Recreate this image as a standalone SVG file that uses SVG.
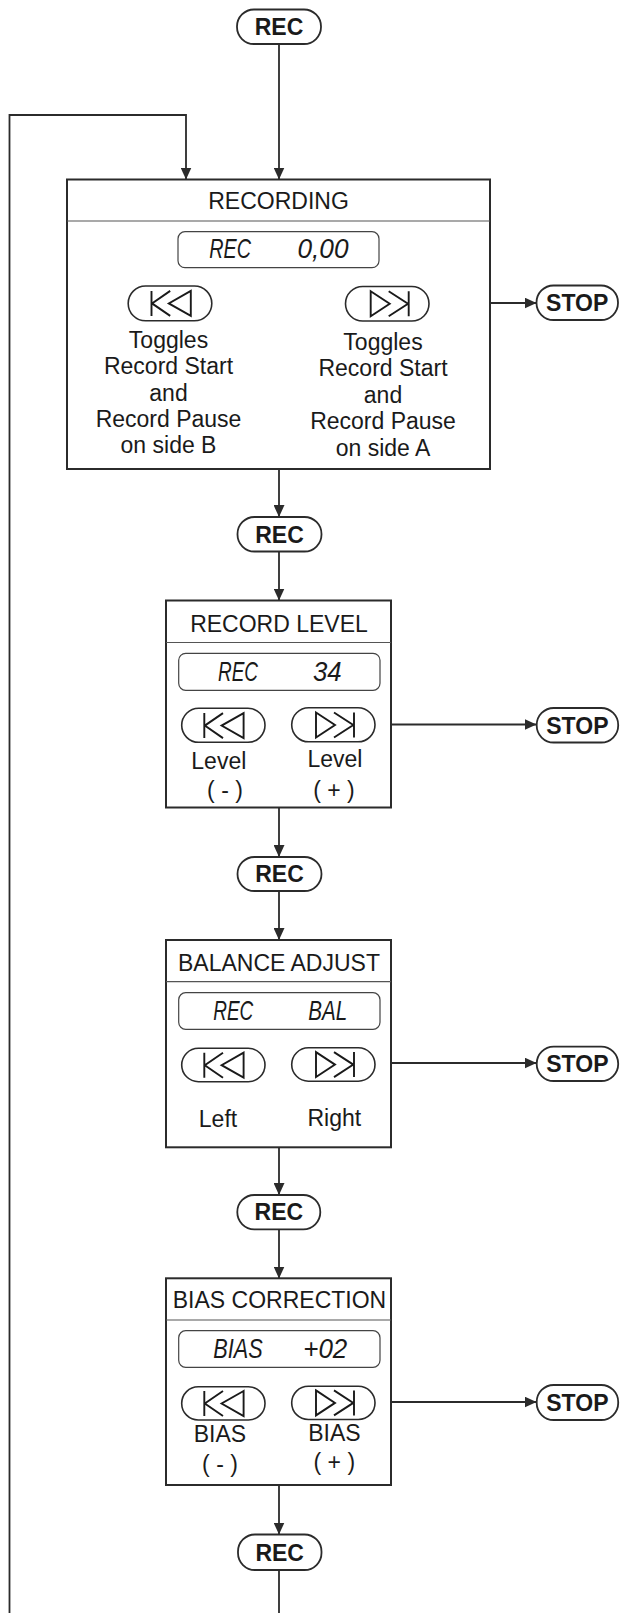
<svg xmlns="http://www.w3.org/2000/svg" width="620" height="1613" viewBox="0 0 620 1613">
<style>
.box{fill:#fff;stroke:#2b2b2b;stroke-width:2}
.sep{stroke:#555;stroke-width:1.2}
.disp{fill:#fff;stroke:#444;stroke-width:1.2}
.pill{fill:#fff;stroke:#2b2b2b;stroke-width:1.8}
.btn{fill:#fff;stroke:#2b2b2b;stroke-width:1.6}
.ico{fill:none;stroke:#1a1a1a;stroke-width:1.9}
.conn{fill:none;stroke:#2b2b2b;stroke-width:1.8}
.t{font-family:"Liberation Sans",Arial,sans-serif;font-size:23px;fill:#1a1a1a;text-anchor:middle}
.b{font-family:"Liberation Sans",Arial,sans-serif;font-size:23px;font-weight:bold;fill:#1a1a1a;text-anchor:middle}
.lcd{font-family:"Liberation Sans",Arial,sans-serif;font-size:28px;font-style:italic;fill:#1a1a1a}
</style>
<defs>
<marker id="ah" viewBox="0 0 12 11" markerWidth="12" markerHeight="11" refX="12" refY="5.5" orient="auto" markerUnits="userSpaceOnUse">
<path d="M0 0 L12 5.5 L0 11 z" fill="#2b2b2b"/>
</marker>
<g id="prev">
<path class="ico" d="M-18.5 -12.5 V12.5 M0.2 -12.5 L-18 0 L0.2 12.5 M20.8 -12.5 L-1.2 0 L20.8 12.5 Z"/>
</g>
<g id="next">
<path class="ico" d="M21.5 -12.5 V12.5 M1.5 -12.5 L20.8 0 L1.5 12.5 M-16.5 -12.5 L2.5 0 L-16.5 12.5 Z"/>
</g>
</defs>

<g id="connectors">
<path class="conn" d="M279 44 V179.5" marker-end="url(#ah)"/>
<path class="conn" d="M9.5 1613 V115 H186 V179.5" marker-end="url(#ah)"/>
<path class="conn" d="M490 303 H536.5" marker-end="url(#ah)"/>
<path class="conn" d="M279 469 V517" marker-end="url(#ah)"/>
<path class="conn" d="M279 551.5 V600.5" marker-end="url(#ah)"/>
<path class="conn" d="M391 724.5 H536.5" marker-end="url(#ah)"/>
<path class="conn" d="M279 807.5 V857" marker-end="url(#ah)"/>
<path class="conn" d="M279 891 V940" marker-end="url(#ah)"/>
<path class="conn" d="M391 1063 H536.5" marker-end="url(#ah)"/>
<path class="conn" d="M279 1147.5 V1195" marker-end="url(#ah)"/>
<path class="conn" d="M279 1229.5 V1278.5" marker-end="url(#ah)"/>
<path class="conn" d="M391 1402 H536.5" marker-end="url(#ah)"/>
<path class="conn" d="M279 1485 V1534.5" marker-end="url(#ah)"/>
<path class="conn" d="M279 1570 V1613"/>
</g>

<g id="rec1">
<rect class="pill" x="237" y="9.5" width="84" height="34.5" rx="17"/>
<text class="b" x="279" y="35">REC</text>
</g>

<g id="recording">
<rect class="box" x="67" y="179.5" width="423" height="289.5"/>
<line class="sep" x1="67" y1="221" x2="490" y2="221"/>
<text class="t" x="278.5" y="209">RECORDING</text>
<rect class="disp" x="178" y="231.7" width="201" height="36" rx="7"/>
<text class="lcd" x="209.3" y="258" textLength="41.7" lengthAdjust="spacingAndGlyphs">REC</text>
<text class="lcd" x="297.5" y="258" textLength="51" lengthAdjust="spacingAndGlyphs">0,00</text>
<rect class="btn" x="128.2" y="286" width="83.6" height="34.8" rx="17.4"/>
<use href="#prev" x="170" y="303.4"/>
<rect class="btn" x="345.5" y="286.5" width="83.5" height="34.5" rx="17.2"/>
<use href="#next" x="387.2" y="303.7"/>
<text class="t" x="168.5" y="348">Toggles</text>
<text class="t" x="168.5" y="374">Record Start</text>
<text class="t" x="168.5" y="400.5">and</text>
<text class="t" x="168.5" y="427">Record Pause</text>
<text class="t" x="168.5" y="453">on side B</text>
<text class="t" x="383" y="350">Toggles</text>
<text class="t" x="383" y="376">Record Start</text>
<text class="t" x="383" y="402.5">and</text>
<text class="t" x="383" y="429">Record Pause</text>
<text class="t" x="383" y="455.5">on side A</text>
</g>

<g id="stop1">
<rect class="pill" x="536.5" y="285.5" width="81.5" height="34.5" rx="17"/>
<text class="b" x="577.2" y="311">STOP</text>
</g>

<g id="rec2">
<rect class="pill" x="237.5" y="517" width="84" height="34.5" rx="17"/>
<text class="b" x="279.5" y="542.5">REC</text>
</g>

<g id="recordlevel">
<rect class="box" x="166" y="600.5" width="225" height="207"/>
<line class="sep" x1="166" y1="642.5" x2="391" y2="642.5"/>
<text class="t" x="279" y="631.5">RECORD LEVEL</text>
<rect class="disp" x="178.7" y="653.3" width="201.3" height="37" rx="7"/>
<text class="lcd" x="218" y="681" textLength="40" lengthAdjust="spacingAndGlyphs">REC</text>
<text class="lcd" x="313" y="681" textLength="28.7" lengthAdjust="spacingAndGlyphs">34</text>
<rect class="btn" x="181.7" y="708.3" width="83.3" height="34" rx="17"/>
<use href="#prev" x="222.8" y="725.6"/>
<rect class="btn" x="291.7" y="707.8" width="83.3" height="34" rx="17"/>
<use href="#next" x="332.5" y="725"/>
<text class="t" x="218.8" y="769">Level</text>
<text class="t" x="225" y="798">( - )</text>
<text class="t" x="335" y="766.7">Level</text>
<text class="t" x="334" y="797.7">( + )</text>
</g>

<g id="stop2">
<rect class="pill" x="536.7" y="708" width="81.5" height="34.5" rx="17"/>
<text class="b" x="577.4" y="733.5">STOP</text>
</g>

<g id="rec3">
<rect class="pill" x="237.5" y="857" width="84" height="34" rx="17"/>
<text class="b" x="279.5" y="882.3">REC</text>
</g>

<g id="balance">
<rect class="box" x="166" y="940" width="225" height="207.3"/>
<line class="sep" x1="166" y1="981.7" x2="391" y2="981.7"/>
<text class="t" x="279" y="970.7">BALANCE ADJUST</text>
<rect class="disp" x="178.7" y="992.7" width="201.3" height="36.6" rx="7"/>
<text class="lcd" x="213.3" y="1020" textLength="40" lengthAdjust="spacingAndGlyphs">REC</text>
<text class="lcd" x="308.3" y="1020" textLength="39" lengthAdjust="spacingAndGlyphs">BAL</text>
<rect class="btn" x="181.7" y="1048.3" width="83.3" height="33.4" rx="16.7"/>
<use href="#prev" x="222.8" y="1065.2"/>
<rect class="btn" x="291.7" y="1047.8" width="83.3" height="33.4" rx="16.7"/>
<use href="#next" x="332.5" y="1064.6"/>
<text class="t" x="218" y="1126.7">Left</text>
<text class="t" x="334.3" y="1125.7">Right</text>
</g>

<g id="stop3">
<rect class="pill" x="536.7" y="1046.7" width="81.5" height="34.3" rx="17"/>
<text class="b" x="577.4" y="1072">STOP</text>
</g>

<g id="rec4">
<rect class="pill" x="237.3" y="1195" width="83" height="34.3" rx="17"/>
<text class="b" x="278.8" y="1220.3">REC</text>
</g>

<g id="bias">
<rect class="box" x="166" y="1278.3" width="225" height="206.7"/>
<line class="sep" x1="166" y1="1320" x2="391" y2="1320"/>
<text class="t" x="279.5" y="1308.3">BIAS CORRECTION</text>
<rect class="disp" x="178.7" y="1330.7" width="201.3" height="36.6" rx="7"/>
<text class="lcd" x="213.3" y="1357.7" textLength="49.4" lengthAdjust="spacingAndGlyphs">BIAS</text>
<text class="lcd" x="303.3" y="1357.7" textLength="44" lengthAdjust="spacingAndGlyphs">+02</text>
<rect class="btn" x="181.7" y="1386.7" width="83.3" height="33.3" rx="16.6"/>
<use href="#prev" x="222.8" y="1403.5"/>
<rect class="btn" x="291.7" y="1386.2" width="83.3" height="33.3" rx="16.6"/>
<use href="#next" x="332.5" y="1402.9"/>
<text class="t" x="220" y="1442.3">BIAS</text>
<text class="t" x="220" y="1471.7">( - )</text>
<text class="t" x="334.5" y="1440.7">BIAS</text>
<text class="t" x="334.3" y="1470">( + )</text>
</g>

<g id="stop4">
<rect class="pill" x="536.7" y="1385" width="81.5" height="35" rx="17"/>
<text class="b" x="577.4" y="1410.7">STOP</text>
</g>

<g id="rec5">
<rect class="pill" x="238" y="1534.5" width="83.5" height="35.5" rx="17"/>
<text class="b" x="279.7" y="1560.5">REC</text>
</g>
</svg>
